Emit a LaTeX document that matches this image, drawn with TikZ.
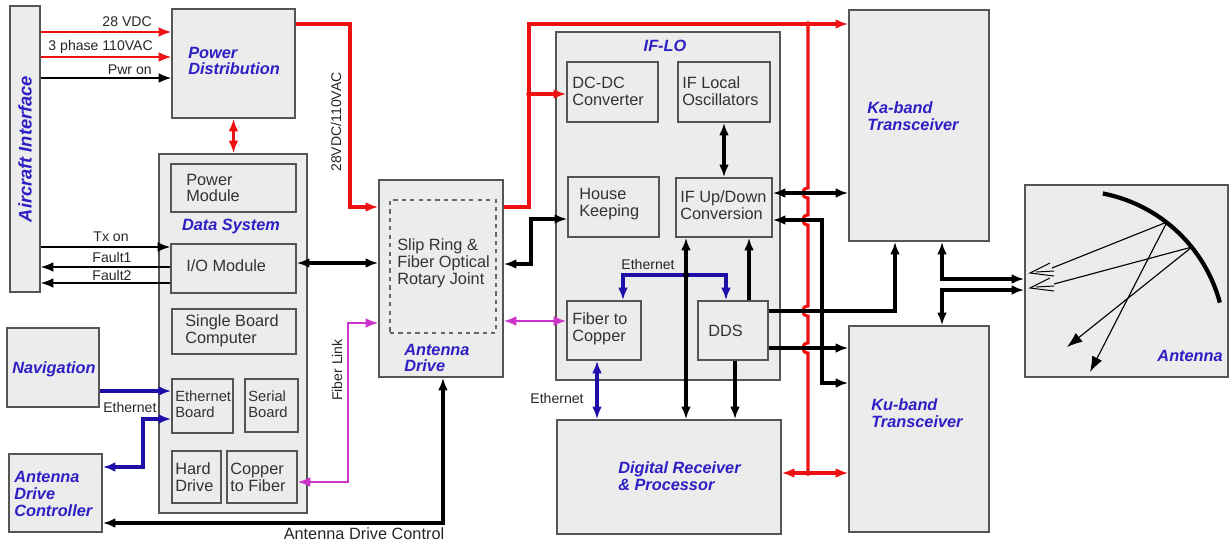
\documentclass[tikz,border=0pt]{standalone}
\usepackage{fontspec}
\setmainfont{Liberation Sans}
\usetikzlibrary{arrows.meta, fit, positioning}

\definecolor{boxgray}{HTML}{ECECEC}
\definecolor{edgegray}{HTML}{555555}
\definecolor{textgray}{HTML}{333333}
\definecolor{titleblue}{HTML}{2E1FC4}
\definecolor{ethblue}{HTML}{1F0FA8}
\definecolor{fibermag}{HTML}{CC33CC}
\definecolor{pwrred}{HTML}{EE1111}

\tikzset{
	box/.style = {draw = edgegray, fill = boxgray, line width = 1.1pt, inner sep = 0pt},
	txt/.style = {inner sep = 0pt, align = left, text = textgray, font = \fontsize{11.6}{12}\selectfont},
	smalltxt/.style = {txt, font = \fontsize{10.5}{11.5}\selectfont},
	title/.style = {inner sep = 0pt, align = left, text = titleblue, font = \fontsize{11.6}{12}\selectfont\bfseries\itshape},
	lbl/.style = {inner sep = 0pt, text = black!85, font = \fontsize{10}{11}\selectfont},
	sig/.style = {line width = 2.2pt},
	ctl/.style = {line width = 1.2pt},
	pwr/.style = {pwrred, line width = 2.2pt},
	eth/.style = {ethblue, line width = 2.2pt},
	fib/.style = {fibermag, line width = 1.3pt}
}

\begin{document}
\begin{tikzpicture}[x = 0.025cm, y = -0.025cm, > = {Latex[length = 9pt, width = 7pt]}]

\useasboundingbox (0, 0) rectangle (1230, 542);

% Left column

\node [box, fit = {(10, 6) (40, 292)}] (air) {};
\node [title, rotate = 90, font = \fontsize{13}{14}\selectfont\bfseries\itshape] (air-txt) at (air) {Aircraft Interface};

\node [box, fit = {(7, 328) (99, 407)}] (nav) {};
\node [title, anchor = west] (nav-txt) at (12, 369) {Navigation};

\node [box, fit = {(9, 454) (102, 532)}] (adc) {};
\node [title, anchor = west] (adc-txt) at (14, 494) {Antenna\\Drive\\Controller};

% Power distribution

\node [box, fit = {(172, 9) (295, 118)}] (pwr-dist) {};
\node [title, anchor = west] (pwr-dist-txt) at (188, 61) {Power\\Distribution};

% Data system and its modules

\node [box, fit = {(159, 154) (307, 513)}] (data-sys) {};
\node [title] (data-sys-txt) at (231, 226) {Data System};

\node [box, fit = {(171, 164) (296, 212)}] (pwr-mod) {};
\node [txt, anchor = west] (pwr-mod-txt) at (186, 188) {Power\\Module};

\node [box, fit = {(171, 244) (296, 293)}] (io) {};
\node [txt, anchor = west] (io-txt) at (186, 266) {I/O Module};

\node [box, fit = {(172, 309) (296, 354)}] (sbc) {};
\node [txt, anchor = west] (sbc-txt) at (185, 331) {Single Board\\Computer};

\node [box, fit = {(172, 379) (233, 433)}] (eth-brd) {};
\node [smalltxt, anchor = west] (eth-brd-txt) at (175, 404) {Ethernet\\Board};

\node [box, fit = {(245, 379) (298, 432)}] (ser-brd) {};
\node [smalltxt, anchor = west] (ser-brd-txt) at (248, 404) {Serial\\Board};

\node [box, fit = {(172, 451) (221, 503)}] (hd) {};
\node [txt, anchor = west] (hd-txt) at (175, 477) {Hard\\Drive};

\node [box, fit = {(227, 451) (297, 503)}] (c2f) {};
\node [txt, anchor = west] (c2f-txt) at (230, 477) {Copper\\to Fiber};

% Antenna drive

\node [box, fit = {(379, 180) (503, 377)}] (ant-drv) {};
\node [draw = edgegray!90, dashed, line width = 1.2pt, inner sep = 0pt, fit = {(390, 200) (496, 333)}] (slip) {};
\node [txt, anchor = west] (slip-txt) at (397, 263) {Slip Ring \&\\Fiber Optical\\Rotary Joint};
\node [title, anchor = west] (ant-drv-txt) at (404, 358) {Antenna\\Drive};

% IF-LO and its modules

\node [box, fit = {(556, 32) (780, 380)}] (if-lo) {};
\node [title] (if-lo-txt) at (665, 46) {IF-LO};

\node [box, fit = {(567, 62) (658, 122)}] (dcdc) {};
\node [txt, anchor = west] (dcdc-txt) at (572, 91) {DC-DC\\Converter};

\node [box, fit = {(678, 62) (770, 122)}] (if-osc) {};
\node [txt, anchor = west] (if-osc-txt) at (682, 91) {IF Local\\Oscillators};

\node [box, fit = {(568, 177) (659, 237)}] (hk) {};
\node [txt, anchor = west] (hk-txt) at (579, 204) {House\\Keeping};

\node [box, fit = {(676, 178) (772, 237)}] (if-ud) {};
\node [txt, anchor = west] (if-ud-txt) at (680, 205) {IF Up/Down\\Conversion};

\node [box, fit = {(567, 301) (641, 360)}] (f2c) {};
\node [txt, anchor = west] (f2c-txt) at (572, 329) {Fiber to\\Copper};

\node [box, fit = {(698, 301) (768, 360)}] (dds) {};
\node [txt, anchor = west] (dds-txt) at (708, 331) {DDS};

% Digital receiver

\node [box, fit = {(557, 420) (781, 534)}] (drp) {};
\node [title, anchor = west] (drp-txt) at (618, 476) {Digital Receiver\\\& Processor};

% Transceivers

\node [box, fit = {(849, 10) (989, 241)}] (ka) {};
\node [title, anchor = west] (ka-txt) at (867, 116) {Ka-band\\Transceiver};

\node [box, fit = {(849, 326) (989, 532)}] (ku) {};
\node [title, anchor = west] (ku-txt) at (871, 413) {Ku-band\\Transceiver};

% Antenna

\node [box, fit = {(1025, 185) (1228, 377)}] (ant) {};
\node [title, anchor = east] (ant-txt) at (1223, 356) {Antenna};

% Aircraft interface lines

\draw [ctl, pwrred, ->] (air.east |- 0, 32) -- (pwr-dist.west |- 0, 32);
\draw [ctl, pwrred, ->] (air.east |- 0, 57) -- (pwr-dist.west |- 0, 57);
\draw [ctl, ->] (air.east |- 0, 78) -- (pwr-dist.west |- 0, 78);
\node [lbl, anchor = east] (vdc-lbl) at (152, 22) {28 VDC};
\node [lbl, anchor = east] (vac-lbl) at (153, 47) {3 phase 110VAC};
\node [lbl, anchor = east] (pwr-on-lbl) at (152, 70) {Pwr on};

\draw [ctl, ->] (air.east |- 0, 247) -- (io.west |- 0, 247);
\draw [ctl, ->] (io.west |- 0, 267) -- (air.east |- 0, 267);
\draw [ctl, ->] (io.west |- 0, 283) -- (air.east |- 0, 283);
\node [lbl] (tx-lbl) at (111, 237) {Tx on};
\node [lbl] (f1-lbl) at (112, 257) {Fault1};
\node [lbl] (f2-lbl) at (112, 275) {Fault2};

% Power lines

\draw [pwr, <->] (pwr-dist.south) -- (pwr-dist.south |- data-sys.north);
\draw [pwr, ->] (pwr-dist.east |- 0, 24) -| (350, 207) -- (ant-drv.west |- 0, 207);
\node [lbl, rotate = 90] (pwr-lbl) at (336, 122) {28VDC/110VAC};
\draw [pwr, ->] (ant-drv.east |- 0, 207) -| (529, 24) -- (ka.west |- 0, 24);
\draw [pwr, ->] (529, 94) -- (dcdc.west |- 0, 94);
\draw [pwr] (808, 24) \foreach \y in {193, 220, 311, 348} {-- (808, \y - 5) .. controls (801, \y - 5) and (801, \y + 5) .. (808, \y + 5)} -- (808, 473);
\draw [pwr, <->] (drp.east |- 0, 473) -- (ku.west |- 0, 473);
\fill [pwrred] (529, 94) circle (2pt) (808, 24) circle (2pt) (808, 473) circle (2pt);

% Data system links

\draw [sig, <->] (io.east |- 0, 263) -- (ant-drv.west |- 0, 263);
\draw [eth, ->] (nav.east |- 0, 391) -- (eth-brd.west |- 0, 391);
\node [lbl, anchor = west] (nav-eth-lbl) at (103, 407) {Ethernet};
\draw [eth, <->] (adc.east |- 0, 467) -| (143, 419) -- (eth-brd.west |- 0, 419);
\draw [fib, <->] (c2f.east |- 0, 482) -| (348, 323) -- (ant-drv.west |- 0, 323);
\node [lbl, rotate = 90] (fib-lbl) at (337, 370) {Fiber Link};
\draw [sig, <->] (ant-drv.south -| 443, 0) |- (adc.east |- 0, 523);
\node [lbl, font = \fontsize{11.6}{12}\selectfont] (adc-lbl) at (364, 534) {Antenna Drive Control};

% IF-LO links

\draw [sig, <->] (ant-drv.east |- 0, 264) -| (531, 219) -- (hk.west |- 0, 219);
\draw [fib, <->] (ant-drv.east |- 0, 321) -- (f2c.west |- 0, 321);
\draw [sig, <->] (if-osc.south) -- (if-osc.south |- if-ud.north);
\draw [sig, <->] (if-ud.south -| 686, 0) -- (drp.north -| 686, 0);
\draw [sig, ->] (dds.north -| 749, 0) -- (if-ud.south -| 749, 0);
\draw [sig, ->] (dds.south -| 735, 0) -- (drp.north -| 735, 0);
\draw [eth, ->] (686, 275) -| (f2c.north -| 623, 0);
\draw [eth, ->] (686, 275) -| (dds.north -| 726, 0);
\fill (686, 275) circle (2.2pt);
\node [lbl] (if-eth-lbl) at (648, 264) {Ethernet};
\draw [eth, <->] (f2c.south -| 597, 0) -- (drp.north -| 597, 0);
\node [lbl] (drp-eth-lbl) at (557, 398) {Ethernet};

% Transceiver links

\draw [sig, <->] (if-ud.east |- 0, 193) -- (ka.west |- 0, 193);
\draw [sig, ->] (dds.east |- 0, 311) -| (ka.south -| 895, 0);
\draw [sig, <->] (if-ud.east |- 0, 220) -| (822, 383) -- (ku.west |- 0, 383);
\draw [sig, ->] (dds.east |- 0, 348) -- (ku.west |- 0, 348);
\draw [sig, <->] (ka.south -| 942, 0) |- (ant.west |- 0, 279);
\draw [sig, <->] (ant.west |- 0, 290) -| (ku.north -| 942, 0);

% Reflector, feeds and rays

\draw [line width = 3pt] plot [smooth, domain = 15:79] ({1074 + 151 * cos(\x)}, {341.7 - 151 * sin(\x)});
\coordinate (refl-a) at (1167, 222);
\coordinate (refl-b) at (1192, 247);
\foreach \y in {273, 288}
	\draw [line width = 0.7pt] (1050, \y - 10) -- (1030, \y) -- (1054, \y + 3) (1036, \y - 1) -- (1054, \y - 2);
\draw [line width = 0.8pt] (1052, 268) -- (refl-a);
\draw [line width = 0.8pt] (1054, 284) -- (refl-b);
\draw [line width = 0.8pt, -{Latex[length = 11pt, width = 8pt]}] (refl-a) -- (1090, 372);
\draw [line width = 0.8pt, -{Latex[length = 11pt, width = 8pt]}] (refl-b) -- (1067, 347);

\end{tikzpicture}
\end{document}
